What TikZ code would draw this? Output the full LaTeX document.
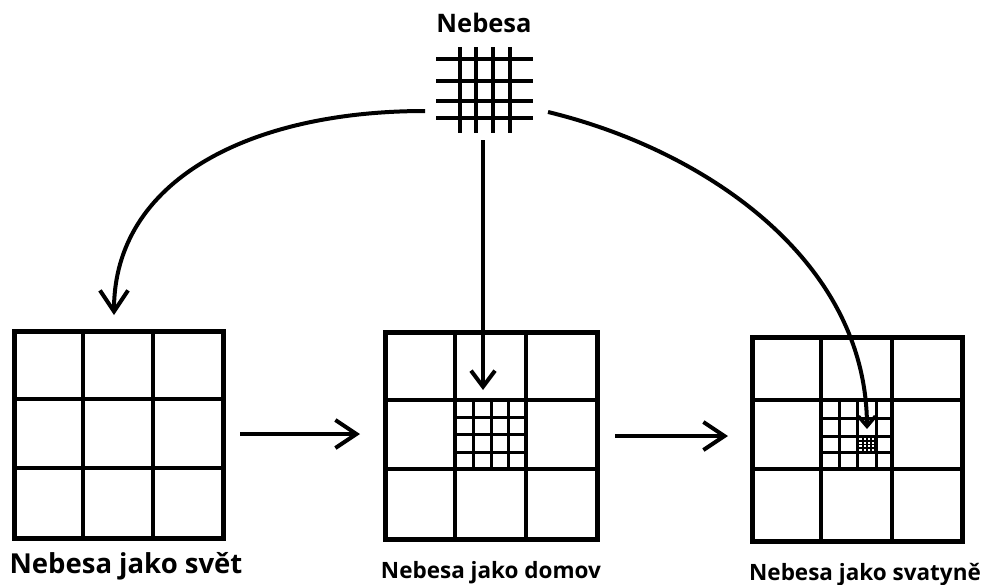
\documentclass[tikz,border=0pt]{standalone}
\usepackage{fontspec}
\setmainfont{Open Sans}
\usetikzlibrary{arrows.meta}
\begin{document}
\begin{tikzpicture}[x=1pt,y=-1pt,
  frame/.style={line width=5pt, line join=miter},
  cellline/.style={line width=4.4pt},
  subline/.style={line width=3pt},
  skyline/.style={line width=3.6pt},
  conn/.style={line width=4pt, -{Straight Barb[length=21pt,width=28pt,line width=4pt]}},
  lbl/.style={font=\bfseries\fontsize{22.5}{26}\selectfont, inner sep=0pt, anchor=base},
  box/.style={inner sep=0pt, outer sep=0pt, draw=none}]
\useasboundingbox (0,0) rectangle (992,584);
% --- named boxes
\node[box, minimum width=97pt, minimum height=86pt] (sky) at (484.5,90) {};
\node[box, minimum width=209pt, minimum height=207pt] (g1) at (118.5,434.5) {};
\node[box, minimum width=212pt, minimum height=207pt] (g2) at (491,435.5) {};
\node[box, minimum width=210pt, minimum height=204pt] (g3) at (857,439) {};
% --- sky hash
\foreach \y in {59,81,101,118} \draw[skyline] (436,\y) -- (533,\y);
\foreach \x in {460,476,493,510} \draw[skyline] (\x,47) -- (\x,133);
% --- grid 1
\draw[frame] (g1.north west) rectangle (g1.south east);
\foreach \x in {83,153} \draw[cellline] (\x,331) -- (\x,538);
\foreach \y in {399,468} \draw[cellline] (14,\y) -- (223,\y);
% --- grid 2
\draw[frame] (g2.north west) rectangle (g2.south east);
\foreach \x in {455,526} \draw[cellline] (\x,332) -- (\x,539);
\foreach \y in {400,469} \draw[cellline] (385,\y) -- (597,\y);
\foreach \x in {473,491,508} \draw[subline] (\x,400) -- (\x,469);
\foreach \y in {417,434,452} \draw[subline] (455,\y) -- (526,\y);
% --- grid 3
\draw[frame] (g3.north west) rectangle (g3.south east);
\foreach \x in {821,892} \draw[cellline] (\x,337) -- (\x,541);
\foreach \y in {400,469} \draw[cellline] (752,\y) -- (962,\y);
\foreach \x in {839,857,876} \draw[subline] (\x,400) -- (\x,469);
\foreach \y in {418,436,452} \draw[subline] (821,\y) -- (892,\y);
\fill (857,436) rectangle (876,452);
\foreach \i in {0,1,2,3} \foreach \j in {0,1,2,3}
  \fill[white] (859.4+4.2*\i,438.2+3.6*\j) rectangle ++(2.2,1.8);
% --- labels
\node[lbl, font=\bfseries\fontsize{25.5}{30}\selectfont] (t0) at (484,32) {Nebesa};
\node[lbl, font=\bfseries\fontsize{27.5}{32}\selectfont] (t1) at (126,573) {Nebesa jako svět};
\node[lbl] (t2) at (491,578) {Nebesa jako domov};
\node[lbl] (t3) at (865,580) {Nebesa jako svatyně};
% --- connector ends
\coordinate (a1s) at (425,111);
\coordinate (a1e) at (114,315);
\coordinate (a2s) at (483,140);
\coordinate (a2e) at (483,390);
\coordinate (a3s) at (548,112);
\coordinate (a3e) at (867,429);
\coordinate (h1s) at (240,434);
\coordinate (h1e) at (360,434);
\coordinate (h2s) at (615,436);
\coordinate (h2e) at (728,436);
% --- connectors
\draw[conn] (a1s) .. controls (250,111) and (114,180) .. (a1e);
\draw[conn, -{Straight Barb[length=16pt,width=24pt,line width=4pt]}] (a2s) -- (a2e);
\draw[conn, -{Straight Barb[length=10pt,width=17pt,line width=3.6pt]}] (a3s) .. controls (705,150) and (866,260) .. (a3e);
\draw[conn] (h1s) -- (h1e);
\draw[conn] (h2s) -- (h2e);
\end{tikzpicture}
\end{document}
